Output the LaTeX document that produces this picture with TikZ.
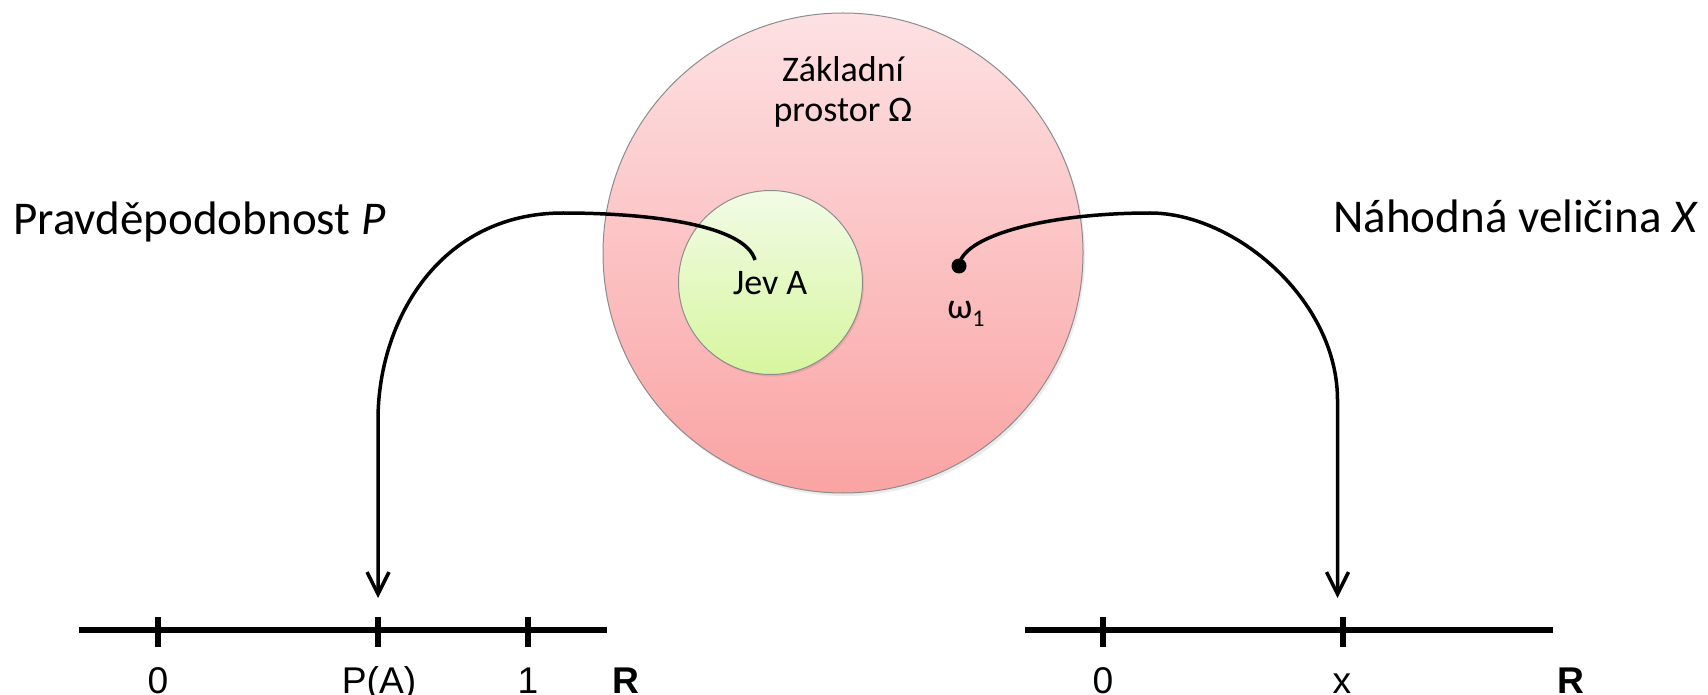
\documentclass[tikz,border=0pt]{standalone}
\usepackage{fontspec}
\setmainfont{Carlito}
\newfontfamily\arialfont{Liberation Sans}
\usetikzlibrary{arrows.meta}
\definecolor{bigtop}{RGB}{253,225,227}
\definecolor{bigbot}{RGB}{250,163,163}
\definecolor{smalltop}{RGB}{242,251,230}
\definecolor{smallbot}{RGB}{214,246,158}
\definecolor{rimgray}{RGB}{140,140,140}
\begin{document}
\begin{tikzpicture}[x=0.5pt,y=-0.5pt,
  bigset/.style={circle, inner sep=0pt, minimum size=240pt, draw=rimgray, line width=0.5pt, top color=bigtop, bottom color=bigbot},
  eventset/.style={circle, inner sep=0pt, minimum size=92pt, draw=rimgray, line width=0.5pt, top color=smalltop, bottom color=smallbot},
  shadowdisc/.style={fill=black, opacity=0.08},
  midtext/.style={inner sep=0pt, anchor=base, font=\fontsize{18pt}{22pt}\selectfont},
  bigtext/.style={inner sep=0pt, anchor=base west, font=\fontsize{23.5pt}{28pt}\selectfont},
  axtext/.style={inner sep=0pt, anchor=base, font=\arialfont\fontsize{18.6pt}{22pt}\selectfont},
  axbold/.style={inner sep=0pt, anchor=base, font=\arialfont\bfseries\fontsize{18.6pt}{22pt}\selectfont},
  dotnode/.style={circle, fill=black, inner sep=0pt, minimum size=7.5pt},
  conn/.style={line width=1.75pt, -{Straight Barb[length=11pt,width=11pt]}},
  axisline/.style={line width=3.2pt},
  tickline/.style={line width=2.6pt}]
\useasboundingbox (0,0) rectangle (1708,695);

% sets
\fill[shadowdisc] (845,256) circle (240);
\node[bigset] (omega) at (843,253) {};
\fill[shadowdisc] (772,284.5) circle (92);
\node[eventset] (jev) at (770.5,282.5) {};

\node[midtext] (zaklad) at (843,82) {Základní};
\node[midtext] (prostor) at (843,122) {prostor Ω};
\node[midtext] (jevlabel) at (770,295) {Jev A};
\node[dotnode] (w1) at (959,266) {};
\node[midtext] (w1label) at (966,319) {ω\raisebox{-0.45ex}{\fontsize{12pt}{14pt}\selectfont 1}};

\node[bigtext] (plabel) at (13,235) {Pravděpodobnost \textit{P}};
\node[bigtext] (xlabel) at (1333,233) {Náhodná veličina \textit{X}};

% connectors
\coordinate (jevtop) at (755,260);
\coordinate (tipP) at (378,598);
\coordinate (tipX) at (1337.5,598);
\draw[conn] (jevtop) .. controls (745,225) and (650,213) .. (563,213)
  .. controls (440,213) and (378,320) .. (378,420) -- (tipP);
\draw[conn] (w1.center) .. controls (962,235) and (1050,213) .. (1150,213)
  .. controls (1235,213) and (1337.5,300) .. (1337.5,400) -- (tipX);

% left axis
\draw[axisline] (79,630) -- (607,630);
\foreach \t in {158,378,528} \draw[tickline] (\t,617) -- (\t,647);
\node[axtext] (l0) at (158,693) {0};
\node[axtext] (lpa) at (379,693) {P(A)};
\node[axtext] (l1) at (528,693) {1};
\node[axbold] (lr1) at (626,693) {R};

% right axis
\draw[axisline] (1025,630) -- (1553,630);
\foreach \t in {1103,1343} \draw[tickline] (\t,617) -- (\t,647);
\node[axtext] (r0) at (1103,693) {0};
\node[axtext] (rx) at (1342,693) {x};
\node[axbold] (lr2) at (1571,693) {R};
\end{tikzpicture}
\end{document}
